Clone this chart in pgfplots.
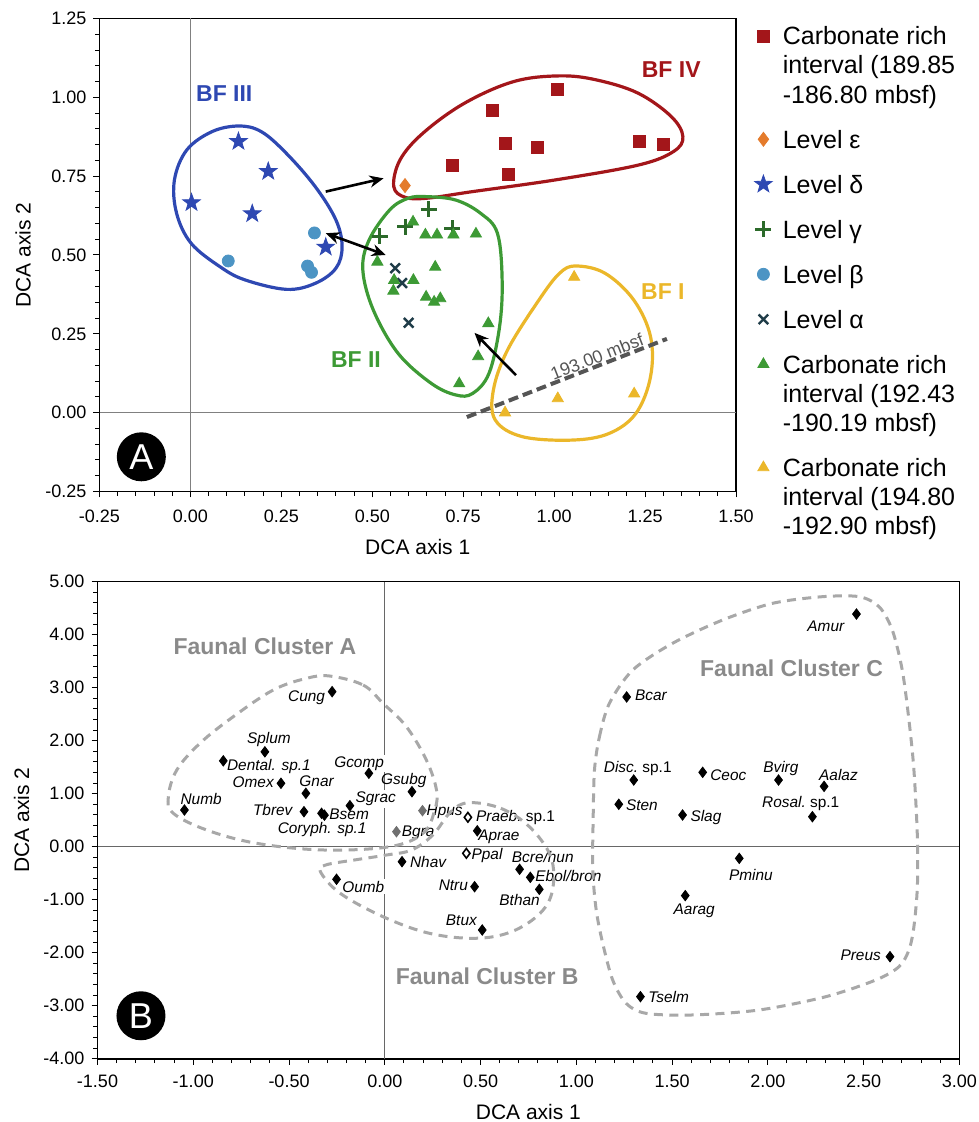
\documentclass[border=0pt]{standalone}
\usepackage{fontspec}
\setmainfont{Liberation Sans}
\usepackage{pgfplots}
\pgfplotsset{compat=1.18}
\usetikzlibrary{arrows.meta}
\definecolor{cred}{HTML}{A3161A}
\definecolor{corange}{HTML}{E47B2C}
\definecolor{cblue}{HTML}{2E48B2}
\definecolor{cdkgreen}{HTML}{2C6A2A}
\definecolor{cltblue}{HTML}{4C94C4}
\definecolor{cslate}{HTML}{1F3C48}
\definecolor{cgreen}{HTML}{3D9A35}
\definecolor{cyellow}{HTML}{EBB72A}
\definecolor{czero}{HTML}{808080}
\definecolor{cdash}{HTML}{A8A8A8}
\definecolor{cclus}{HTML}{8A8A8A}
\definecolor{cmbsf}{HTML}{555555}
\definecolor{cgraymk}{HTML}{707070}

\pgfdeclareplotmark{fstar}{%
 \pgfpathmoveto{\pgfpointpolar{90}{\pgfplotmarksize}}%
 \pgfpathlineto{\pgfpointpolar{126}{0.4*\pgfplotmarksize}}%
 \pgfpathlineto{\pgfpointpolar{162}{\pgfplotmarksize}}%
 \pgfpathlineto{\pgfpointpolar{198}{0.4*\pgfplotmarksize}}%
 \pgfpathlineto{\pgfpointpolar{234}{\pgfplotmarksize}}%
 \pgfpathlineto{\pgfpointpolar{270}{0.4*\pgfplotmarksize}}%
 \pgfpathlineto{\pgfpointpolar{306}{\pgfplotmarksize}}%
 \pgfpathlineto{\pgfpointpolar{342}{0.4*\pgfplotmarksize}}%
 \pgfpathlineto{\pgfpointpolar{18}{\pgfplotmarksize}}%
 \pgfpathlineto{\pgfpointpolar{54}{0.4*\pgfplotmarksize}}%
 \pgfpathclose
 \pgfusepathqfillstroke
}

\pgfplotsset{
  leg/.style={only marks, legend image code/.code={\draw[##1] plot coordinates {(0pt,4.4pt)};\path (-5pt,0pt) (5pt,0pt);}},
  dca/.style={scale only axis, axis line style={line width=0.8pt}, tick pos=left, tick align=outside,
    major tick length=3pt, minor tick length=2.2pt, tick style={black, line width=0.5pt}, minor tick num=4,
    tick label style={font=\fontsize{9}{10}\selectfont, /pgf/number format/fixed, /pgf/number format/fixed zerofill, /pgf/number format/precision=2, /pgf/number format/assume math mode=true},
    label style={font=\fontsize{10.5}{12}\selectfont}, clip=false},
}
\newcommand{\lab}[3]{\node[font=\fontsize{7.7}{9}\selectfont\itshape, inner sep=0.5pt] at (#1,#2) {#3};}
\newcommand{\labw}[3]{\node[font=\fontsize{7.7}{9}\selectfont\itshape, inner sep=1pt, fill=white] at (#1,#2) {#3};}
\newcommand{\Lf}{\rule{0pt}{17pt}}
\newcommand{\Lc}{\rule{0pt}{9pt}}

\begin{document}
\begin{tikzpicture}
\path[use as bounding box] (0,0) rectangle (489pt,561pt);

% ---------------- Panel A ----------------
\begin{axis}[dca, at={(49.75pt,315.25pt)}, anchor=south west, width=318.25pt, height=236.5pt,
  xmin=-0.25, xmax=1.5, ymin=-0.25, ymax=1.25,
  xtick={-0.25,0,0.25,0.5,0.75,1,1.25,1.5}, ytick={-0.25,0,0.25,0.5,0.75,1,1.25},
  xticklabel style={yshift=-2.5pt},
  xlabel={DCA axis 1}, ylabel={DCA axis 2},
  xlabel style={at={(axis description cs:0.5,-0.117)}, anchor=center},
  ylabel style={at={(axis description cs:-0.12,0.5)}, anchor=center},
  legend style={draw=none, fill=none, inner sep=0pt, outer sep=0pt, at={(1.0267,1.0246)}, anchor=north west,
    font=\fontsize{12.5}{14.5}\selectfont, row sep=0pt, column sep=2.5pt,
    cells={anchor=base west, inner sep=0pt}},
]
\draw[czero, line width=0.7pt] (0,-0.25) -- (0,1.25);
\draw[czero, line width=0.7pt] (-0.25,0) -- (1.5,0);

% outlines
\draw[cred, line width=1.6pt] plot[smooth cycle, tension=0.6] coordinates {
 (0.559,0.717) (0.590,0.683) (0.650,0.680) (0.776,0.701) (1.003,0.738) (1.231,0.785) (1.328,0.828)
 (1.354,0.875) (1.322,0.939) (1.231,1.013) (1.117,1.055) (1.015,1.068) (0.889,1.050) (0.753,0.981)
 (0.639,0.886) (0.576,0.801)};
\draw[cblue, line width=1.6pt] plot[smooth cycle, tension=0.6] coordinates {
 (0.133,0.909) (0.059,0.891) (-0.010,0.833) (-0.044,0.738) (-0.038,0.632) (0.002,0.537) (0.081,0.463)
 (0.150,0.421) (0.264,0.391) (0.343,0.410) (0.400,0.458) (0.417,0.526) (0.400,0.611) (0.343,0.717)
 (0.264,0.822) (0.195,0.891)};
\draw[cgreen, line width=1.6pt] plot[smooth cycle, tension=0.6] coordinates {
 (0.650,0.685) (0.730,0.674) (0.798,0.632) (0.844,0.569) (0.857,0.421) (0.850,0.273) (0.821,0.125)
 (0.776,0.061) (0.730,0.056) (0.662,0.093) (0.571,0.188) (0.503,0.325) (0.474,0.452) (0.491,0.547)
 (0.548,0.643) (0.599,0.680)};
\draw[cyellow, line width=1.6pt] plot[smooth cycle, tension=0.6] coordinates {
 (1.060,0.465) (1.140,0.442) (1.219,0.357) (1.265,0.241) (1.265,0.114) (1.225,-0.002) (1.151,-0.066)
 (1.049,-0.087) (0.912,-0.076) (0.838,-0.023) (0.833,0.072) (0.872,0.199) (0.958,0.357) (1.015,0.442)};

% dashed boundary line
\draw[cmbsf, line width=2pt, dash pattern=on 5pt off 2.5pt] (0.760,-0.014) -- (1.310,0.234);
\node[rotate=21.3, text=cmbsf, font=\fontsize{8.9}{10}\selectfont] at (1.118,0.178) {193.00 mbsf};

% arrows
\draw[line width=1.3pt, -{Stealth[length=7pt,width=6pt]}] (0.372,0.701) -- (0.531,0.743);
\draw[line width=1.3pt, {Stealth[length=7pt,width=6pt]}-{Stealth[length=7pt,width=6pt]}] (0.372,0.569) -- (0.537,0.500);
\draw[line width=1.3pt, -{Stealth[length=7pt,width=6pt]}] (0.895,0.119) -- (0.781,0.253);

% labels
\node[text=cblue, font=\bfseries\fontsize{11.5}{12}\selectfont] at (0.093,1.013) {BF III};
\node[text=cred, font=\bfseries\fontsize{11.5}{12}\selectfont] at (1.322,1.087) {BF IV};
\node[text=cgreen, font=\bfseries\fontsize{11.5}{12}\selectfont] at (0.455,0.169) {BF II};
\node[text=cyellow, font=\bfseries\fontsize{11.5}{12}\selectfont] at (1.299,0.383) {BF I};
\node[circle, fill=black, text=white, minimum size=24.5pt, inner sep=0pt, font=\fontsize{18}{18}\selectfont] at (-0.135,-0.14) {A};

% data
\addplot[leg, mark=square*, color=cred, mark size=3pt] coordinates {
 (0.83,0.96) (1.01,1.025) (0.865,0.855) (0.955,0.84) (0.72,0.785) (0.875,0.755) (1.235,0.86) (1.30,0.85)};
\addlegendentry{\Lf Carbonate rich}
\addlegendimage{empty legend}\addlegendentry{\Lc interval (189.85}
\addlegendimage{empty legend}\addlegendentry{\Lc -186.80 mbsf)}
\addplot[leg, mark=diamond*, color=corange, mark size=3.5pt] coordinates {(0.59,0.72)};
\addlegendentry{\Lf Level ε}
\addplot[leg, mark=fstar, color=cblue, mark size=4.6pt] coordinates {
 (0.132,0.860) (0.214,0.765) (0.003,0.666) (0.170,0.631) (0.372,0.525)};
\addlegendentry{\Lf Level δ}
\addplot[leg, mark=+, color=cdkgreen, mark size=4pt, mark options={line width=1.5pt}] coordinates {
 (0.52,0.56) (0.59,0.59) (0.655,0.645) (0.72,0.585)};
\addlegendentry{\Lf Level γ}
\addplot[leg, mark=*, color=cltblue, mark size=3pt] coordinates {
 (0.341,0.570) (0.104,0.481) (0.322,0.465) (0.333,0.445)};
\addlegendentry{\Lf Level β}
\addplot[leg, mark=x, color=cslate, mark size=3.4pt, mark options={line width=1.2pt}] coordinates {
 (0.563,0.458) (0.582,0.411) (0.600,0.285)};
\addlegendentry{\Lf Level α}
\addplot[leg, mark=triangle*, color=cgreen, mark size=3.2pt] coordinates {
 (0.612,0.605) (0.646,0.564) (0.678,0.564) (0.723,0.564) (0.785,0.567) (0.514,0.478) (0.673,0.462)
 (0.560,0.420) (0.613,0.420) (0.558,0.386) (0.648,0.367) (0.670,0.351) (0.687,0.362) (0.819,0.283)
 (0.791,0.178) (0.739,0.092)};
\addlegendentry{\Lf Carbonate rich}
\addlegendimage{empty legend}\addlegendentry{\Lc interval (192.43}
\addlegendimage{empty legend}\addlegendentry{\Lc -190.19 mbsf)}
\addplot[leg, mark=triangle*, color=cyellow, mark size=3.2pt] coordinates {
 (1.055,0.43) (1.01,0.045) (1.22,0.06) (0.865,0.0)};
\addlegendentry{\Lf Carbonate rich}
\addlegendimage{empty legend}\addlegendentry{\Lc interval (194.80}
\addlegendimage{empty legend}\addlegendentry{\Lc -192.90 mbsf)}
\end{axis}

% ---------------- Panel B ----------------
\begin{axis}[dca, at={(48.75pt,31.65pt)}, anchor=south west, width=430.9pt, height=238.5pt,
  xmin=-1.5, xmax=3, ymin=-4, ymax=5,
  xtick={-1.5,-1,-0.5,0,0.5,1,1.5,2,2.5,3}, ytick={-4,-3,-2,-1,0,1,2,3,4,5},
  xticklabel style={yshift=-1.5pt},
  xlabel={DCA axis 1}, ylabel={DCA axis 2},
  xlabel style={at={(axis description cs:0.5,-0.111)}, anchor=center},
  ylabel style={at={(axis description cs:-0.088,0.5)}, anchor=center},
]
\draw[czero!80!black, line width=0.6pt] (0,-4) -- (0,5);
\draw[czero!80!black, line width=0.6pt] (-1.5,0) -- (3,0);

% species labels
\lab{-0.408}{2.82}{Cung}
\lab{-0.605}{2.03}{Splum}
\lab{-0.605}{1.52}{Dental. sp.1}
\lab{-0.687}{1.21}{Omex}
\lab{-0.356}{1.23}{Gnar}
\labw{-0.134}{1.57}{Gcomp}
\lab{0.099}{1.245}{Gsubg}
\labw{-0.047}{0.90}{Sgrac}
\lab{-0.959}{0.90}{Numb}
\lab{-0.585}{0.69}{Tbrev}
\lab{-0.186}{0.617}{Bsem}
\lab{-0.327}{0.328}{Coryph. sp.1}
\lab{0.313}{0.649}{Hpus}
\lab{0.174}{0.27}{Bgra}
\lab{0.683}{0.555}{Praeb.\upshape\ sp.1}
\lab{0.596}{0.19}{Aprae}
\lab{0.534}{-0.175}{Ppal}
\lab{0.226}{-0.295}{Nhav}
\labw{-0.112}{-0.755}{Oumb}
\lab{0.358}{-0.73}{Ntru}
\lab{0.825}{-0.19}{Bcre/hun}
\lab{0.959}{-0.553}{Ebol/bron}
\lab{0.704}{-1.006}{Bthan}
\lab{0.40}{-1.383}{Btux}
\lab{2.303}{4.164}{Amur}
\lab{1.39}{2.856}{Bcar}
\lab{1.321}{1.479}{Disc.\upshape\ sp.1}
\lab{1.794}{1.34}{Ceoc}
\lab{2.068}{1.466}{Bvirg}
\lab{2.369}{1.353}{Aalaz}
\lab{1.343}{0.774}{Sten}
\lab{1.677}{0.555}{Slag}
\lab{2.172}{0.806}{Rosal.\upshape\ sp.1}
\lab{1.912}{-0.534}{Pminu}
\lab{1.616}{-1.207}{Aarag}
\lab{2.485}{-2.057}{Preus}
\lab{1.482}{-2.83}{Tselm}

\node[text=cclus, font=\bfseries\fontsize{11.5}{12}\selectfont] at (-0.626,3.774) {Faunal Cluster A};
\node[text=cclus, font=\bfseries\fontsize{11.5}{12}\selectfont] at (0.535,-2.44) {Faunal Cluster B};
\node[text=cclus, font=\bfseries\fontsize{11.5}{12}\selectfont] at (2.124,3.366) {Faunal Cluster C};

% dashed cluster outlines
\draw[cdash, line width=1.5pt, dash pattern=on 4.5pt off 3.2pt] plot[smooth cycle, tension=0.6] coordinates {
 (-0.287,3.22) (-0.113,3.05) (-0.009,2.705) (0.113,2.264) (0.217,1.636) (0.27,1.07) (0.261,0.692)
 (0.2,0.253) (0.026,0.0) (-0.322,-0.062) (-0.669,0.064) (-0.93,0.315) (-1.104,0.63) (-1.13,0.943)
 (-1.086,1.447) (-0.965,1.951) (-0.791,2.453) (-0.582,2.957) (-0.408,3.177)};
\draw[cdash, line width=1.5pt, dash pattern=on 4.5pt off 3.2pt] plot[smooth cycle, tension=0.6] coordinates {
 (0.438,0.83) (0.606,0.724) (0.755,0.377) (0.867,-0.189) (0.876,-0.817) (0.811,-1.257) (0.662,-1.604)
 (0.475,-1.728) (0.233,-1.634) (-0.009,-1.321) (-0.233,-0.879) (-0.336,-0.472) (-0.308,-0.345)
 (-0.159,-0.251) (0.009,-0.157) (0.14,-0.062) (0.251,0.221) (0.345,0.66)};
\draw[cdash, line width=1.5pt, dash pattern=on 4.5pt off 3.2pt] plot[smooth cycle, tension=0.5] coordinates {
 (1.095,1.447) (1.121,2.075) (1.173,2.706) (1.295,3.334) (1.503,3.838) (1.764,4.277) (2.025,4.592)
 (2.285,4.717) (2.477,4.717) (2.581,4.528) (2.65,4.089) (2.702,3.334) (2.737,2.39) (2.763,1.447)
 (2.781,0.189) (2.781,-0.755) (2.763,-1.509) (2.737,-1.949) (2.685,-2.264) (2.564,-2.515) (2.303,-2.83)
 (1.955,-3.081) (1.607,-3.175) (1.364,-3.144) (1.26,-2.955) (1.19,-2.515) (1.138,-1.823) (1.104,-1.194)
 (1.086,-0.44) (1.088,0.5)};

\node[circle, fill=black, text=white, minimum size=24.5pt, inner sep=0pt, font=\fontsize{18}{18}\selectfont] at (-1.273,-3.19) {B};

% species scores
\addplot[only marks, mark=diamond*, color=black, mark size=2.6pt] coordinates {
 (-0.275,2.925) (-0.626,1.79) (-0.843,1.62) (-0.542,1.196) (-0.412,1.007) (-0.083,1.385) (0.142,1.038)
 (-0.182,0.774) (-1.046,0.692) (-0.422,0.66) (-0.33,0.63) (-0.315,0.595) (0.483,0.30) (0.09,-0.283)
 (-0.252,-0.615) (0.469,-0.755) (0.704,-0.427) (0.76,-0.578) (0.807,-0.805) (0.509,-1.572)
 (2.463,4.39) (1.263,2.825) (1.30,1.258) (1.66,1.403) (2.056,1.258) (2.294,1.138) (1.222,0.80)
 (1.555,0.598) (2.233,0.566) (1.851,-0.22) (1.569,-0.923) (2.638,-2.075) (1.335,-2.83)};
\addplot[only marks, mark=diamond*, color=cgraymk, mark size=2.6pt] coordinates {
 (0.197,0.68) (0.061,0.283)};
\addplot[only marks, mark=diamond*, mark size=2.4pt, mark options={draw=black, fill=white, line width=0.8pt}] coordinates {
 (0.434,0.555) (0.426,-0.125)};
\end{axis}
\end{tikzpicture}
\end{document}
